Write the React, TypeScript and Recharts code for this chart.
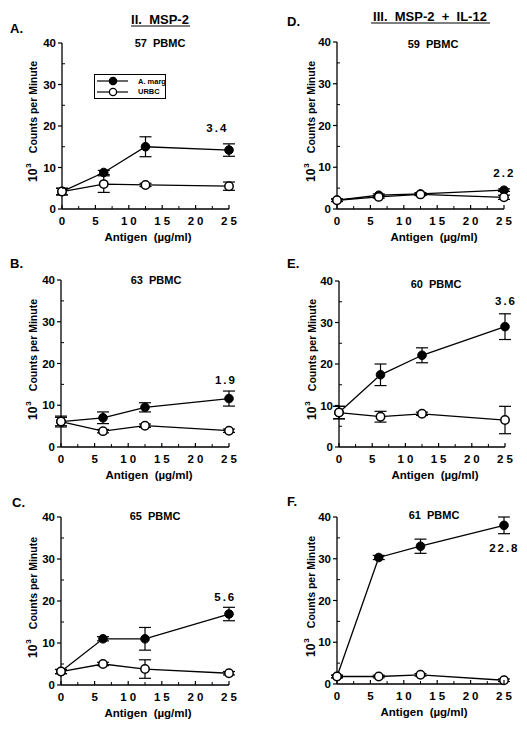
import React from 'react'
import { LineChart, Line, XAxis, YAxis, ErrorBar, ReferenceDot, Legend } from 'recharts'

const FONT = '"Liberation Sans", Arial, Helvetica, sans-serif'

// antigen doses (µg/ml)
const doses = [0, 6.25, 12.5, 25]
const xTicks = [0, 2.5, 5, 7.5, 10, 12.5, 15, 17.5, 20, 22.5, 25]
const yTicks = [0, 5, 10, 15, 20, 25, 30, 35, 40]

// II. MSP-2
const aMarg = [4.2, 8.8, 15.0, 14.2]
const aMargErr = [0.8, 0.5, 2.4, 1.5]
const aUrbc = [4.2, 6.0, 5.8, 5.5]
const aUrbcErr = [0.8, 2.0, 0.4, 1.0]

const bMarg = [6.1, 7.0, 9.5, 11.6]
const bMargErr = [1.3, 1.4, 1.1, 1.8]
const bUrbc = [6.1, 3.8, 5.1, 3.9]
const bUrbcErr = [1.0, 0.4, 0.4, 0.4]

const cMarg = [3.2, 11.0, 11.0, 16.9]
const cMargErr = [0.5, 0.5, 2.7, 1.6]
const cUrbc = [3.2, 5.0, 3.8, 2.8]
const cUrbcErr = [0.5, 0.4, 2.2, 0.4]

// III. MSP-2 + IL-12
const dMarg = [2.1, 3.3, 3.6, 4.5]
const dMargErr = [0.3, 0.3, 0.3, 0.3]
const dUrbc = [2.1, 2.9, 3.5, 2.8]
const dUrbcErr = [0.3, 0.3, 0.3, 0.5]

const eMarg = [8.3, 17.4, 22.1, 29.0]
const eMargErr = [1.5, 2.6, 1.8, 3.1]
const eUrbc = [8.3, 7.3, 8.0, 6.5]
const eUrbcErr = [1.5, 1.3, 0.4, 3.3]

const fMarg = [1.8, 30.3, 33.0, 38.0]
const fMargErr = [0.3, 0.5, 1.7, 2.0]
const fUrbc = [1.8, 1.8, 2.2, 0.9]
const fUrbcErr = [0.3, 0.3, 0.3, 0.3]

const letters = ['A.', 'B.', 'C.', 'D.', 'E.', 'F.']
const pbmc = ['57 PBMC', '63 PBMC', '65 PBMC', '59 PBMC', '60 PBMC', '61 PBMC']
const ratioText = ['3.4', '1.9', '5.6', '2.2', '3.6', '22.8']
const ratioX = [23.1, 24.4, 24.3, 24.9, 25, 24.9]
const ratioY = [19.6, 16.0, 21.0, 8.6, 35.3, 32.5]

const series = [
  [aMarg, aMargErr, aUrbc, aUrbcErr],
  [bMarg, bMargErr, bUrbc, bUrbcErr],
  [cMarg, cMargErr, cUrbc, cUrbcErr],
  [dMarg, dMargErr, dUrbc, dUrbcErr],
  [eMarg, eMargErr, eUrbc, eUrbcErr],
  [fMarg, fMargErr, fUrbc, fUrbcErr],
]

// panel boxes and where their texts go
const layout = [
  { left: 0, top: 0, w: 263, h: 240, mt: 43, mb: 0, ml: 32, mr: 34, letterX: 10, letterY: 33, titleX: 160, titleY: 47, xlabX: 148, ylabX: 37 },
  { left: 0, top: 240, w: 263, h: 240, mt: 40, mb: 2, ml: 31, mr: 34, letterX: 10, letterY: 268, titleX: 156, titleY: 284, xlabX: 149, ylabX: 37 },
  { left: 0, top: 480, w: 263, h: 252, mt: 37, mb: 16, ml: 31, mr: 34, letterX: 12, letterY: 507, titleX: 155, titleY: 520, xlabX: 148, ylabX: 37 },
  { left: 263, top: 0, w: 264, h: 240, mt: 42, mb: 0, ml: 44, mr: 23, letterX: 287, letterY: 26, titleX: 433, titleY: 48, xlabX: 434, ylabX: 315 },
  { left: 263, top: 240, w: 264, h: 240, mt: 41, mb: 2, ml: 46, mr: 22, letterX: 287, letterY: 268, titleX: 436, titleY: 288, xlabX: 435, ylabX: 316 },
  { left: 263, top: 480, w: 264, h: 252, mt: 37, mb: 17, ml: 44, mr: 23, letterX: 287, letterY: 506, titleX: 434, titleY: 519, xlabX: 424, ylabX: 315 },
]

const YTick = (props: any) => {
  const { x, y, payload } = props
  const v = payload.value
  if (v % 10 === 0) {
    return (
      <g>
        <line x1={x - 4} x2={x} y1={y} y2={y} stroke="#000" strokeWidth={1.2} />
        <text x={x - 6} y={y + 4} textAnchor="end" fontSize={11.5} fontWeight="bold" fontFamily={FONT} fill="#000">{v}</text>
      </g>
    )
  }
  return <line x1={x} x2={x + 3} y1={y} y2={y} stroke="#000" strokeWidth={1} />
}

const XTick = (props: any) => {
  const { x, y, payload } = props
  const v = payload.value
  if (v % 5 === 0) {
    return (
      <g>
        <line x1={x} x2={x} y1={y} y2={y - 4} stroke="#000" strokeWidth={1.2} />
        <text x={x + (v >= 10 ? 1.5 : 0)} y={y + 16} textAnchor="middle" fontSize={11.5} fontWeight="bold" fontFamily={FONT} fill="#000" letterSpacing={v >= 10 ? 3 : 0}>{v}</text>
      </g>
    )
  }
  return <line x1={x} x2={x} y1={y} y2={y - 3} stroke="#000" strokeWidth={1} />
}

const RatioLabel = (props: any) => {
  const { viewBox, text } = props
  return (
    <text x={viewBox.x + 1} y={viewBox.y + 4} textAnchor="middle" fontSize={11.5} fontWeight="bold" fontFamily={FONT} fill="#000" letterSpacing={2}>{text}</text>
  )
}

const LegendBox = (props: any) => {
  const items = props.payload || []
  return (
    <div style={{ border: '1.3px solid #000', width: 72, height: 25, boxSizing: 'border-box', background: '#fff', fontFamily: FONT, fontWeight: 'bold', fontSize: 7.5, whiteSpace: 'nowrap', paddingTop: 1 }}>
      {items.map((it: any, i: number) => (
        <div key={it.value} style={{ display: 'flex', alignItems: 'center', height: 10.5 }}>
          <svg width={36} height={10} style={{ flex: 'none' }}>
            <line x1={2} x2={33} y1={5} y2={5} stroke="#000" strokeWidth={1.2} />
            <circle cx={18} cy={5} r={3.6} fill={i === 0 ? '#000' : '#fff'} stroke="#000" strokeWidth={1.3} />
          </svg>
          <span style={{ marginLeft: 7 }}>{it.value}</span>
        </div>
      ))}
    </div>
  )
}

function Panel({ idx }: { idx: number }) {
  const L = layout[idx]
  const [marg, margErr, urbc, urbcErr] = series[idx]
  const data = doses.map((d, i) => ({ dose: d, marg: marg[i], margErr: margErr[i], urbc: urbc[i], urbcErr: urbcErr[i] }))
  return (
    <div style={{ position: 'absolute', left: L.left, top: L.top }}>
      <LineChart width={L.w} height={L.h} data={data} margin={{ top: L.mt, right: L.mr, bottom: L.mb, left: L.ml }}>
        <XAxis dataKey="dose" type="number" domain={[0, 25]} ticks={xTicks} interval={0} tickSize={0} tickMargin={0} tick={<XTick />} axisLine={{ stroke: '#000', strokeWidth: 1.3 }} height={31} />
        <YAxis type="number" domain={[0, 40]} ticks={yTicks} interval={0} tickSize={0} tickMargin={0} tick={<YTick />} axisLine={{ stroke: '#000', strokeWidth: 1.3 }} width={30} />
        {idx === 0 && (
          <Legend layout="horizontal" verticalAlign="middle" align="center" content={<LegendBox />} wrapperStyle={{ position: 'absolute', left: 94, top: 74, width: 72, height: 25 }} />
        )}
        <Line name="A. marg" dataKey="marg" stroke="#000" strokeWidth={1.3} isAnimationActive={false} activeDot={false}
          dot={{ r: 4.3, fill: '#000', stroke: '#000', strokeWidth: 1 }}>
          <ErrorBar dataKey="margErr" width={6} stroke="#000" strokeWidth={1.2} direction="y" />
        </Line>
        <Line name="URBC" dataKey="urbc" stroke="#000" strokeWidth={1.3} isAnimationActive={false} activeDot={false}
          dot={{ r: 4.2, fill: '#fff', stroke: '#000', strokeWidth: 1.5 }}>
          <ErrorBar dataKey="urbcErr" width={6} stroke="#000" strokeWidth={1.2} direction="y" />
        </Line>
        <ReferenceDot x={ratioX[idx]} y={ratioY[idx]} r={0} fill="none" stroke="none" ifOverflow="visible" label={<RatioLabel text={ratioText[idx]} />} />
      </LineChart>
    </div>
  )
}

export default function App() {
  const txt = { fontFamily: FONT, fontWeight: 'bold' as const, fill: '#000' }
  return (
    <div style={{ position: 'absolute', left: 0, top: 0, width: 527, height: 732, background: '#fff', overflow: 'hidden' }}>
      {layout.map((_, i) => <Panel key={i} idx={i} />)}
      <svg width={527} height={732} style={{ position: 'absolute', left: 0, top: 0, pointerEvents: 'none' }}>
        <text x={160} y={24} textAnchor="middle" fontSize={13} style={{ whiteSpace: 'pre' }} {...txt}>II.  MSP-2</text>
        <line x1={131} x2={190} y1={26} y2={26} stroke="#000" strokeWidth={1.2} />
        <text x={430} y={21} textAnchor="middle" fontSize={13} style={{ whiteSpace: 'pre' }} {...txt}>III.  MSP-2  +  IL-12</text>
        <line x1={371} x2={490} y1={23} y2={23} stroke="#000" strokeWidth={1.2} />
        {layout.map((L, i) => {
          const plotBottom = L.top + L.h - L.mb - 31
          const ly = plotBottom - 27
          return (
            <g key={i}>
              <text x={L.letterX} y={L.letterY} fontSize={13} {...txt}>{letters[i]}</text>
              <text x={L.titleX} y={L.titleY} textAnchor="middle" fontSize={11} style={{ whiteSpace: 'pre' }} {...txt}>{pbmc[i].replace(' ', '  ')}</text>
              <text x={L.xlabX} y={plotBottom + 32} textAnchor="middle" fontSize={11.5} style={{ whiteSpace: 'pre' }} {...txt}>Antigen  (µg/ml)</text>
              <text x={L.ylabX} y={ly} transform={`rotate(-90, ${L.ylabX}, ${ly})`} {...txt}>
                <tspan fontSize={12}>10</tspan>
                <tspan fontSize={8} dx={1} dy={-6}>3</tspan>
                <tspan fontSize={10.5} dx={10} dy={6}>Counts per Minute</tspan>
              </text>
            </g>
          )
        })}
      </svg>
    </div>
  )
}
